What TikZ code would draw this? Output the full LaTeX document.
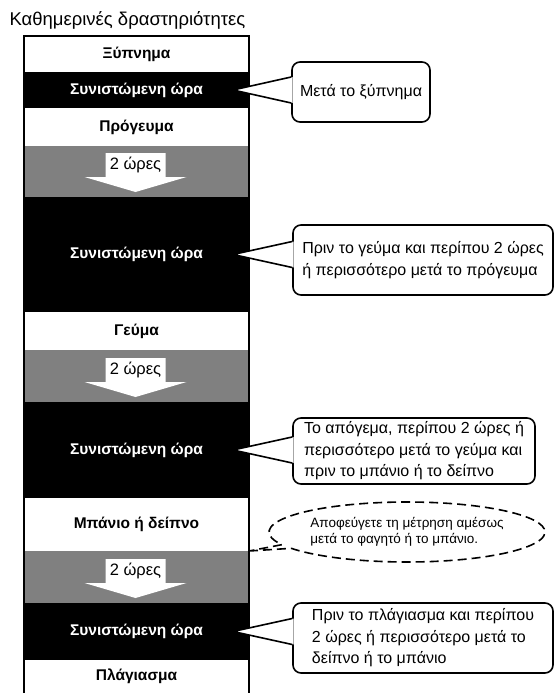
\documentclass[tikz,border=0pt]{standalone}
\usepackage{fontspec}
\setmainfont{Liberation Sans}
\usepackage{tikz}
\usetikzlibrary{positioning}
\usetikzlibrary{calc}
\usetikzlibrary{shapes.callouts}

\begin{document}
\begin{tikzpicture}[
		row/.style={minimum width=225pt, inner sep=0pt, outer sep=0pt, font=\fontsize{15.5}{18}\selectfont\bfseries},
		lightrow/.style={row, fill=white, text=black},
		darkrow/.style={row, fill=black, text=white},
		gaprow/.style={row, fill=gray},
		note/.style={draw, line width=1.6pt, rounded corners=8pt, fill=white, align=left, inner sep=3pt, font=\fontsize{16}{21.5}\selectfont},
	]
			\useasboundingbox (0,0) rectangle (555pt,-693pt);
			\node[anchor=west, font=\fontsize{18.5}{20}\selectfont] (title) at (6pt,-20pt) {Καθημερινές δραστηριότητες};
			
			\node[lightrow, minimum height=36pt] (wake) at (136.5pt,-54pt) {Ξύπνημα};
			\node[darkrow, minimum height=36pt, below=0mm of wake] (rec1) {Συνιστώμενη ώρα};
			\node[lightrow, minimum height=38pt, below=0mm of rec1] (bfast) {Πρόγευμα};
			\node[gaprow, minimum height=51pt, below=0mm of bfast] (gap1) {};
			\node[darkrow, minimum height=115pt, below=0mm of gap1] (rec2) {Συνιστώμενη ώρα};
			\node[lightrow, minimum height=38pt, below=0mm of rec2] (lunch) {Γεύμα};
			\node[gaprow, minimum height=52pt, below=0mm of lunch] (gap2) {};
			\node[darkrow, minimum height=96pt, below=0mm of gap2] (rec3) {Συνιστώμενη ώρα};
			\node[lightrow, minimum height=53pt, below=0mm of rec3] (bath) {Μπάνιο ή δείπνο};
			\node[gaprow, minimum height=52pt, below=0mm of bath] (gap3) {};
			\node[darkrow, minimum height=57pt, below=0mm of gap3] (rec4) {Συνιστώμενη ώρα};
			\node[lightrow, minimum height=33pt, below=0mm of rec4] (sleep) {Πλάγιασμα};
			
			\draw[line width=1.6pt] (sleep.south west) -- (wake.north west) -- (wake.north east) -- (sleep.south east);
			
			% white arrows in the gaps
			\foreach \g in {gap1,gap2,gap3} {
				\fill[white] ($(\g.south)+(-31pt,44pt)$) -- ($(\g.south)+(29pt,44pt)$) -- ($(\g.south)+(29pt,20pt)$) -- ($(\g.south)+(50pt,20pt)$)
					-- ($(\g.south)+(-1pt,5pt)$) -- ($(\g.south)+(-52pt,20pt)$) -- ($(\g.south)+(-31pt,20pt)$) -- cycle;
				\node[font=\fontsize{16.5}{18}\selectfont] (\g-hrs) at ($(\g.south)+(-1pt,32pt)$) {2 ώρες};
			}
			
			\node[note, minimum width=138pt, minimum height=60pt] (n1) at (361pt,-92pt) {Μετά το ξύπνημα};
			\node[note, minimum width=260pt, minimum height=70pt] (n2) at (423pt,-260pt) {Πριν το γεύμα και περίπου 2 ώρες\\ή περισσότερο μετά το πρόγευμα};
			\node[note, minimum width=242pt, minimum height=66pt] (n3) at (414pt,-451pt) {Το απόγεμα, περίπου 2 ώρες ή\\περισσότερο μετά το γεύμα και\\πριν το μπάνιο ή το δείπνο};
			\node[note, minimum width=260pt, minimum height=70pt] (n5) at (423pt,-638pt) {Πριν το πλάγιασμα και περίπου\\2 ώρες ή περισσότερο μετά το\\δείπνο ή το μπάνιο};
			
			% pointers from the notes to the rows
			\foreach \n/\r in {n1/rec1, n2/rec2, n3/rec3, n5/rec4} {
				\coordinate (\n-tip) at ($(\r.east)+(-16pt,0)$);
				\fill[white] ($(\n.west |- \n-tip)+(1.5pt,13pt)$) -- (\n-tip) -- ($(\n.west |- \n-tip)+(1.5pt,-13pt)$) -- cycle;
				\draw[line width=1.6pt] ($(\n.west |- \n-tip)+(0,13pt)$) -- (\n-tip) -- ($(\n.west |- \n-tip)+(0,-13pt)$);
			}
			
			\node[ellipse callout, draw, line width=1.6pt, dash pattern=on 9pt off 5pt, fill=white, minimum width=270pt, minimum height=60pt,
				callout absolute pointer={(bath.south east)}, callout pointer arc=8, align=left, inner sep=1pt,
				font=\fontsize{13.5}{16}\selectfont] (n4) at (407pt,-532pt) {Αποφεύγετε τη μέτρηση αμέσως\\μετά το φαγητό ή το μπάνιο.};
			
		\end{tikzpicture}
\end{document}
